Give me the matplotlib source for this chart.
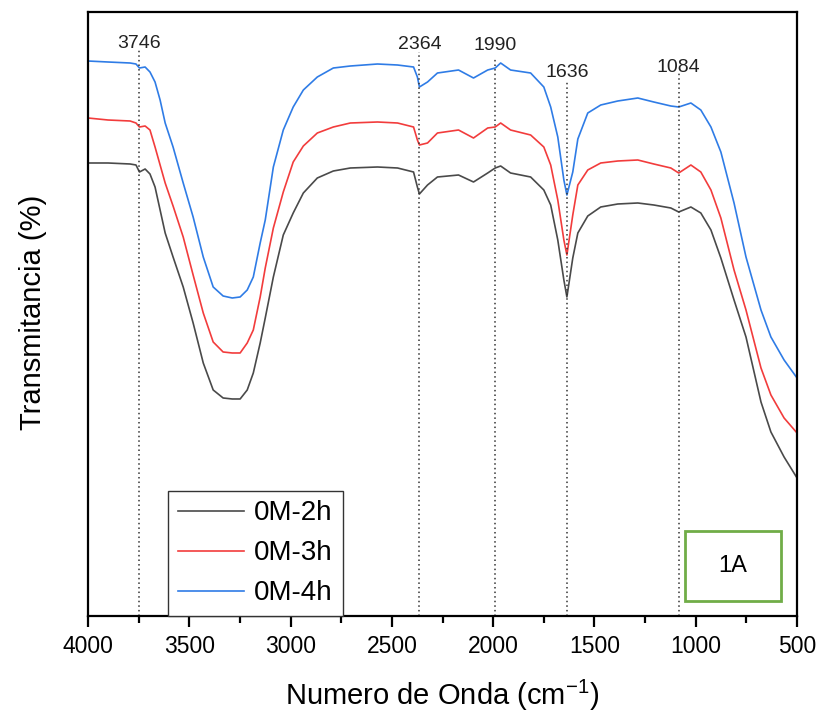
import matplotlib
matplotlib.use("Agg")
import matplotlib.pyplot as plt
from matplotlib.patches import Rectangle

plt.rcParams['font.family'] = ['Liberation Sans', 'DejaVu Sans']
plt.rcParams['mathtext.fontset'] = 'custom'
plt.rcParams['mathtext.rm'] = 'Liberation Sans'
plt.rcParams['mathtext.it'] = 'Liberation Sans:italic'

# FTIR spectra: wavenumber (cm-1) and transmittance (%) for each sample
wavenumber = [4000, 3901, 3792, 3763, 3746, 3718, 3694, 3669, 3644, 3619,
              3580, 3530, 3481, 3431, 3382, 3333, 3288, 3249, 3214, 3184,
              3150, 3125, 3085, 3036, 2987, 2937, 2868, 2789, 2705, 2571,
              2472, 2393, 2374, 2364, 2324, 2275, 2171, 2097, 2027, 1990,
              1963, 1914, 1815, 1750, 1716, 1681, 1651, 1636, 1607, 1582,
              1533, 1469, 1385, 1286, 1207, 1123, 1084, 1024, 975, 925,
              876, 811, 752, 678, 629, 564, 500]

t_2h = [45.3, 45.3, 45.2, 45.1, 44.4, 44.7, 44.2, 42.9, 40.6, 38.3,
        35.9, 32.9, 29.3, 25.3, 22.6, 21.8, 21.7, 21.7, 22.6, 24.3,
        27.3, 29.8, 33.9, 38.1, 40.3, 42.3, 43.8, 44.5, 44.8, 44.9,
        44.8, 44.4, 42.9, 42.2, 43.1, 43.9, 44.1, 43.4, 44.3, 44.8,
        45.0, 44.3, 43.9, 42.6, 41.1, 37.6, 33.6, 31.9, 35.8, 38.3,
        40.0, 40.9, 41.2, 41.3, 41.1, 40.8, 40.4, 40.9, 40.3, 38.6,
        35.8, 31.6, 27.9, 21.4, 18.4, 15.9, 13.8]

t_3h = [49.8, 49.6, 49.5, 49.3, 48.9, 49.0, 48.6, 46.9, 45.1, 43.3,
        41.0, 37.9, 34.1, 30.3, 27.4, 26.4, 26.3, 26.3, 27.3, 28.6,
        31.9, 34.8, 38.8, 42.4, 45.4, 47.0, 48.3, 48.9, 49.3, 49.4,
        49.3, 48.9, 47.6, 47.1, 47.3, 48.3, 48.6, 47.8, 48.8, 48.9,
        49.3, 48.6, 48.1, 46.9, 45.1, 41.6, 37.6, 36.1, 40.1, 43.1,
        44.6, 45.3, 45.5, 45.6, 45.2, 44.8, 44.3, 45.1, 44.4, 42.6,
        39.8, 34.6, 30.6, 24.8, 22.1, 19.8, 18.3]

t_4h = [55.5, 55.4, 55.3, 55.2, 54.8, 54.9, 54.4, 53.4, 51.6, 49.3,
        46.9, 43.3, 39.9, 35.9, 32.9, 32.0, 31.8, 31.9, 32.6, 33.9,
        37.3, 39.6, 44.9, 48.6, 50.9, 52.6, 53.9, 54.8, 55.0, 55.2,
        55.1, 54.9, 53.9, 52.9, 53.4, 54.3, 54.6, 53.8, 54.6, 54.8,
        55.3, 54.6, 54.3, 52.9, 50.9, 47.9, 43.6, 42.1, 44.4, 47.7,
        50.3, 51.1, 51.5, 51.8, 51.4, 51.0, 50.9, 51.3, 50.6, 48.9,
        46.4, 41.3, 35.9, 30.6, 27.9, 25.6, 23.8]

series_labels = ['0M-2h', '0M-3h', '0M-4h']
series_colors = ['#4a4a4a', '#f23c3c', '#2f7ce6']

# marked bands: position, top of the guide line, label height
peaks = [3746, 2364, 1990, 1636, 1084]
peak_line_top = [56.6, 56.4, 55.8, 53.4, 54.3]
peak_label_y = [57.3, 57.2, 57.1, 54.4, 54.9]

xticks = [4000, 3500, 3000, 2500, 2000, 1500, 1000, 500]

fig = plt.figure(figsize=(8.2, 7.19), dpi=100)
ax = fig.add_axes([0.1073, 0.1433, 0.8647, 0.8400])

for ys, lab, col in zip([t_2h, t_3h, t_4h], series_labels, series_colors):
    ax.plot(wavenumber, ys, color=col, lw=1.2, label=lab)

ax.vlines(peaks, 0, peak_line_top, colors='#333333', linestyles=(0, (1, 2)), lw=1.1)
for p, ly in zip(peaks, peak_label_y):
    ax.text(p, ly, str(p), ha='center', va='center', fontsize=14, color='#222222')

ax.set_xlim(4000, 500)
ax.set_ylim(0, 60.4)
ax.set_xticks(xticks)
ax.set_xticks(range(500, 4001, 250), minor=True)
ax.set_yticks([])
ax.tick_params(axis='x', which='major', direction='out', length=8, width=1.6,
               labelsize=16.5, pad=6)
ax.tick_params(axis='x', which='minor', direction='out', length=5, width=1.6)
for s in ax.spines.values():
    s.set_linewidth(1.6)
    s.set_color('black')

fig.text(0.539, 0.033, 'Numero de Onda (cm$^{-1}$)', ha='center', va='center', fontsize=21)
fig.text(0.040, 0.566, 'Transmitancia (%)', ha='center', va='center',
         rotation=90, fontsize=21)

leg = ax.legend(loc='lower left', bbox_to_anchor=(0.113, 0.0), fontsize=20,
                frameon=True, fancybox=False, framealpha=1, edgecolor='#333333',
                handlelength=2.4, handletextpad=0.35, labelspacing=0.5,
                borderpad=0.35, borderaxespad=0.0)
leg.get_frame().set_linewidth(1.0)

ax.add_patch(Rectangle((0.842, 0.0248), 0.1354, 0.1159, transform=ax.transAxes,
                       fill=False, edgecolor='#70ad47', lw=2.0))
ax.text(0.9097, 0.0828, '1A', transform=ax.transAxes, ha='center', va='center',
        fontsize=17)

fig.savefig('out.png', dpi=100)
